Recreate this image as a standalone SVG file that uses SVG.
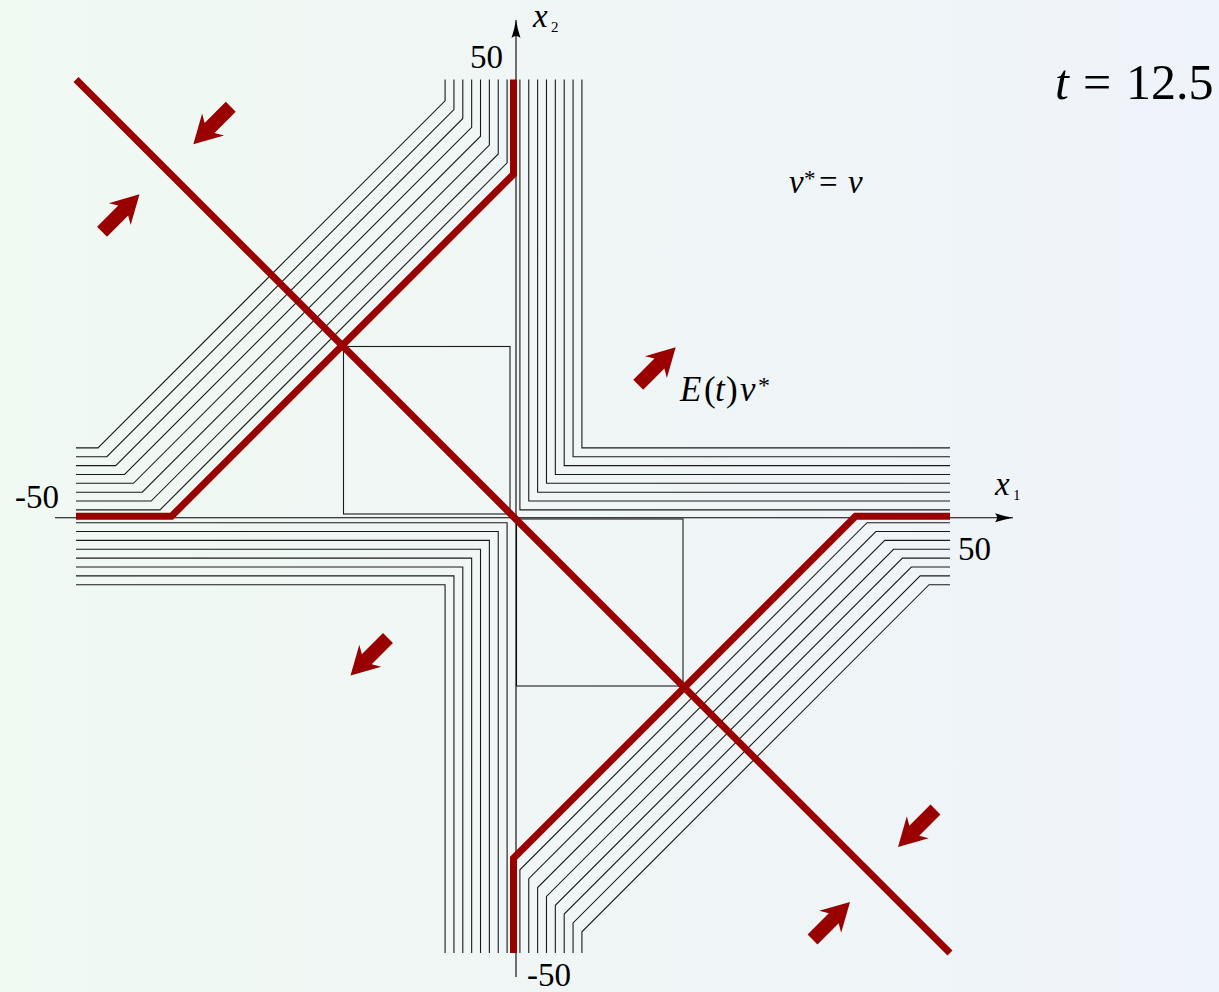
<svg xmlns="http://www.w3.org/2000/svg" width="1219" height="992" viewBox="0 0 1219 992">
<style>
.bl{fill:none;stroke:#1a1a1a;stroke-width:1.1}
.rd{fill:none;stroke:#990000;stroke-width:7;stroke-linejoin:miter}
.ax{fill:none;stroke:#000;stroke-width:1.1}
.t{font-family:"Liberation Serif","Times New Roman",serif;fill:#000}
.i{font-style:italic}
.arr{fill:#990000}
</style>
<defs>
<linearGradient id="bg" x1="0" y1="0" x2="1" y2="0">
<stop offset="0" stop-color="#f0f9f2"/>
<stop offset="1" stop-color="#eff3fa"/>
</linearGradient>
<path id="blk" d="M0,0 L-28,-15.5 L-23,-7 L-53,-7 L-53,7 L-23,7 L-28,15.5 Z"/>
<marker id="ah" markerUnits="userSpaceOnUse" markerWidth="24" markerHeight="12" viewBox="-20 -6 24 12" refX="0" refY="0" orient="auto">
<path d="M0,0 Q-9,-1.5 -18,-4.5 Q-14,0 -18,4.5 Q-9,1.5 0,0 Z" fill="#000"/>
</marker>
</defs>
<rect width="1219" height="992" fill="url(#bg)"/>

<g id="squares">
<rect class="bl" x="343.5" y="346.5" width="166.5" height="167.5"/>
<rect class="bl" x="516.5" y="519" width="166.5" height="167"/>
</g>

<g id="quadrant-I-lines">
<polyline class="bl" points="519.9,79.5 519.9,509.9 950,509.9"/>
<polyline class="bl" points="528.76,79.5 528.76,501.04 950,501.04"/>
<polyline class="bl" points="537.62,79.5 537.62,492.18 950,492.18"/>
<polyline class="bl" points="546.48,79.5 546.48,483.32 950,483.32"/>
<polyline class="bl" points="555.34,79.5 555.34,474.46 950,474.46"/>
<polyline class="bl" points="564.2,79.5 564.2,465.6 950,465.6"/>
<polyline class="bl" points="573.06,79.5 573.06,456.74 950,456.74"/>
<polyline class="bl" points="581.92,79.5 581.92,447.88 950,447.88"/>
</g>

<g id="quadrant-III-lines">
<polyline class="bl" points="507.1,953 507.1,522.7 76,522.7"/>
<polyline class="bl" points="498.24,953 498.24,531.56 76,531.56"/>
<polyline class="bl" points="489.38,953 489.38,540.42 76,540.42"/>
<polyline class="bl" points="480.52,953 480.52,549.28 76,549.28"/>
<polyline class="bl" points="471.66,953 471.66,558.14 76,558.14"/>
<polyline class="bl" points="462.8,953 462.8,567 76,567"/>
<polyline class="bl" points="453.94,953 453.94,575.86 76,575.86"/>
<polyline class="bl" points="445.08,953 445.08,584.72 76,584.72"/>
</g>

<g id="quadrant-II-lines">
<polyline class="bl" points="76,509.9 160,509.9 507.1,162.8 507.1,79.5"/>
<polyline class="bl" points="76,501.04 151.14,501.04 498.24,153.94 498.24,79.5"/>
<polyline class="bl" points="76,492.18 142.28,492.18 489.38,145.08 489.38,79.5"/>
<polyline class="bl" points="76,483.32 133.42,483.32 480.52,136.22 480.52,79.5"/>
<polyline class="bl" points="76,474.46 124.56,474.46 471.66,127.36 471.66,79.5"/>
<polyline class="bl" points="76,465.6 115.7,465.6 462.8,118.5 462.8,79.5"/>
<polyline class="bl" points="76,456.74 106.84,456.74 453.94,109.64 453.94,79.5"/>
<polyline class="bl" points="76,447.88 97.98,447.88 445.08,100.78 445.08,79.5"/>
</g>

<g id="quadrant-IV-lines">
<polyline class="bl" points="950,522.7 867,522.7 519.9,869.8 519.9,953"/>
<polyline class="bl" points="950,531.56 875.86,531.56 528.76,878.66 528.76,953"/>
<polyline class="bl" points="950,540.42 884.72,540.42 537.62,887.52 537.62,953"/>
<polyline class="bl" points="950,549.28 893.58,549.28 546.48,896.38 546.48,953"/>
<polyline class="bl" points="950,558.14 902.44,558.14 555.34,905.24 555.34,953"/>
<polyline class="bl" points="950,567 911.3,567 564.2,914.1 564.2,953"/>
<polyline class="bl" points="950,575.86 920.16,575.86 573.06,922.96 573.06,953"/>
<polyline class="bl" points="950,584.72 929.02,584.72 581.92,931.82 581.92,953"/>
</g>

<g id="axes">
<line class="ax" x1="55" y1="517.8" x2="1013" y2="517.8" marker-end="url(#ah)"/>
<line class="ax" x1="516" y1="977" x2="516" y2="20" marker-end="url(#ah)"/>
</g>

<g id="red-lines">
<polyline class="rd" points="76,516.3 171.5,516.3 513.5,174.3 513.5,79.5"/>
<polyline class="rd" points="513.5,953 513.5,858.3 855.5,516.3 950,516.3"/>
<line class="rd" x1="76" y1="79.5" x2="950" y2="953"/>
</g>

<g id="arrows" class="arr">
<use href="#blk" transform="translate(193.3,144.3) rotate(135)"/>
<use href="#blk" transform="translate(139.5,194.3) rotate(-45)"/>
<use href="#blk" transform="translate(675.7,347.3) rotate(-45)"/>
<use href="#blk" transform="translate(350.5,675.5) rotate(135)"/>
<use href="#blk" transform="translate(898,847) rotate(135)"/>
<use href="#blk" transform="translate(850,902) rotate(-45)"/>
</g>

<g id="labels">
<text class="t" x="470" y="68" font-size="33">50</text>
<text class="t" x="15" y="508" font-size="33">-50</text>
<text class="t" x="958" y="560" font-size="33">50</text>
<text class="t" x="527" y="986" font-size="33">-50</text>
<text class="t" font-size="33"><tspan class="i" x="995" y="495">x</tspan><tspan x="1013" y="500" font-size="15">1</tspan></text>
<text class="t" font-size="33"><tspan class="i" x="533" y="27">x</tspan><tspan x="551" y="32" font-size="15">2</tspan></text>
<text class="t" font-size="35"><tspan class="i" x="680" y="401">E</tspan><tspan x="704" y="401">(</tspan><tspan class="i" x="715" y="401">t</tspan><tspan x="726" y="401">)</tspan><tspan class="i" x="740" y="401">v</tspan><tspan x="758" y="393" font-size="24">*</tspan></text>
<text class="t" font-size="33"><tspan class="i" x="789" y="193">v</tspan><tspan x="804" y="186" font-size="23">*</tspan><tspan x="819" y="193">=</tspan><tspan class="i" x="848" y="193">ν</tspan></text>
<text class="t" font-size="50"><tspan class="i" x="1055" y="99">t</tspan><tspan x="1083" y="99">=</tspan><tspan x="1126" y="99">12.5</tspan></text>
</g>
</svg>
